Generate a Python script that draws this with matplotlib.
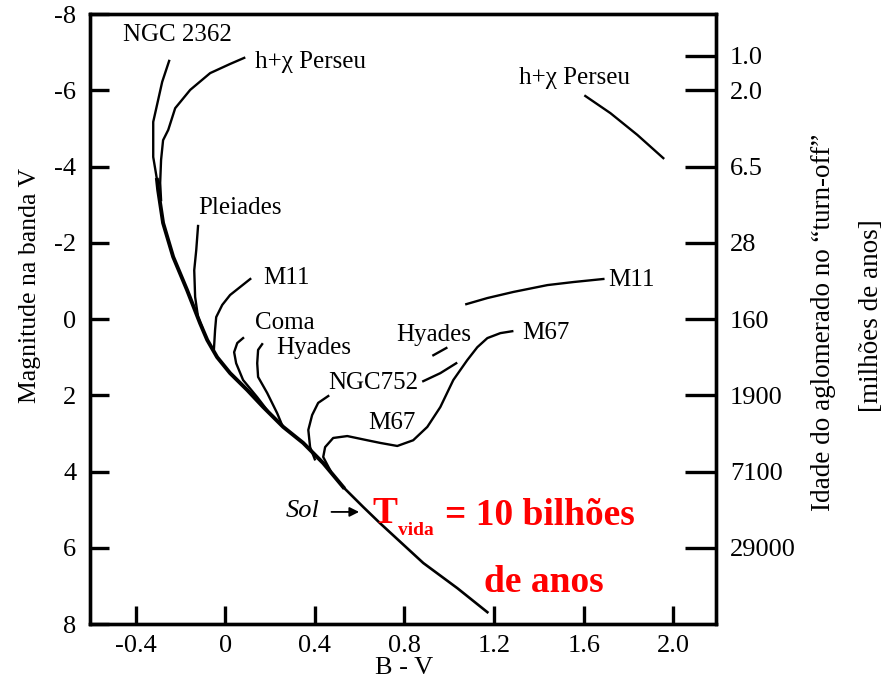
import numpy as np
import matplotlib
matplotlib.use("Agg")
import matplotlib.pyplot as plt

plt.rcParams['font.family'] = ['Liberation Serif', 'DejaVu Serif']

# isocronas (B-V, V) lidas para cada aglomerado
zams_top_bv = [-0.304, -0.299, -0.277, -0.232, -0.170, -0.112, -0.080, -0.036, 0.022, 0.098, 0.170, 0.259, 0.348, 0.4375, 0.527]
zams_top_v = [-3.65, -3.38, -2.52, -1.63, -0.76, 0.11, 0.55, 1.00, 1.42, 1.86, 2.31, 2.83, 3.25, 3.78, 4.41]
zams_low_bv = [0.527, 0.616, 0.690, 0.884, 1.036, 1.170]
zams_low_v = [4.41, 4.93, 5.35, 6.40, 7.06, 7.69]

ngc2362_bv = [-0.250, -0.281, -0.321, -0.321, -0.304]
ngc2362_v = [-6.77, -6.22, -5.17, -4.25, -3.65]

hper_bv = [0.085, 0.022, -0.067, -0.156, -0.223, -0.254, -0.277, -0.286, -0.290, -0.286]
hper_v = [-6.85, -6.69, -6.45, -6.01, -5.53, -4.96, -4.69, -4.17, -3.57, -3.12]
hper_giant_bv = [1.607, 1.719, 1.839, 1.955]
hper_giant_v = [-5.85, -5.40, -4.83, -4.22]

pleiades_bv = [-0.121, -0.129, -0.138, -0.134, -0.121, -0.103]
pleiades_v = [-2.44, -1.81, -1.28, -0.58, -0.05, 0.21]

m11_bv = [0.112, 0.067, 0.022, -0.013, -0.040, -0.045, -0.050]
m11_v = [-1.05, -0.84, -0.63, -0.37, -0.05, 0.29, 0.78]
m11_giant_bv = [1.076, 1.170, 1.286, 1.438, 1.554, 1.6875]
m11_giant_v = [-0.39, -0.55, -0.71, -0.89, -0.97, -1.05]

coma_bv = [0.080, 0.054, 0.040, 0.049, 0.080, 0.143, 0.1875]
coma_v = [0.50, 0.63, 0.87, 1.16, 1.60, 2.05, 2.39]

hyades_bv = [0.165, 0.147, 0.143, 0.147, 0.1875, 0.232, 0.254]
hyades_v = [0.66, 0.81, 1.16, 1.52, 1.94, 2.47, 2.78]
hyades_giant_bv = [0.929, 0.987]
hyades_giant_v = [0.95, 0.76]

ngc752_bv = [0.460, 0.415, 0.388, 0.371, 0.379, 0.400]
ngc752_v = [2.02, 2.20, 2.52, 2.91, 3.36, 3.68]
ngc752_giant_bv = [0.884, 0.960, 1.031]
ngc752_giant_v = [1.63, 1.42, 1.16]

m67_bv = [0.470, 0.4375, 0.446, 0.482, 0.545, 0.634, 0.692, 0.768, 0.839, 0.902, 0.960, 1.018, 1.080, 1.125, 1.170, 1.228, 1.281]
m67_v = [3.98, 3.62, 3.36, 3.12, 3.07, 3.18, 3.25, 3.33, 3.18, 2.83, 2.31, 1.60, 1.08, 0.74, 0.50, 0.37, 0.32]

mag_ticks = [-8, -6, -4, -2, 0, 2, 4, 6, 8]
bv_ticks = [-0.4, 0.0, 0.4, 0.8, 1.2, 1.6, 2.0]
bv_labels = ['-0.4', '0', '0.4', '0.8', '1.2', '1.6', '2.0']
age_ticks = [-6.9, -6, -4, -2, 0, 2, 4, 6]
age_labels = ['1.0', '2.0', '6.5', '28', '160', '1900', '7100', '29000']

# nomes dos aglomerados: (texto, B-V, V, alinhamento)
cluster_names = [
    ('NGC 2362', -0.214, -7.45, 'center'),
    ('h+\u03c7 Perseu', 0.134, -6.74, 'left'),
    ('h+\u03c7 Perseu', 1.558, -6.32, 'center'),
    ('Pleiades', 0.067, -2.91, 'center'),
    ('M11', 0.170, -1.07, 'left'),
    ('Coma', 0.268, 0.11, 'center'),
    ('Hyades', 0.397, 0.76, 'center'),
    ('NGC752', 0.862, 1.68, 'right'),
    ('M67', 0.746, 2.73, 'center'),
    ('Hyades', 0.929, 0.42, 'center'),
    ('M67', 1.326, 0.37, 'left'),
    ('M11', 1.710, -1.02, 'left'),
]

fig = plt.figure(figsize=(8.86, 6.84), dpi=100)
ax = fig.add_axes([0.1016, 0.0877, 0.7065, 0.8918])

lw = 1.7
ax.plot(zams_top_bv, zams_top_v, 'k-', lw=2.8, solid_joinstyle='round')
ax.plot(zams_low_bv, zams_low_v, 'k-', lw=1.9, solid_joinstyle='round')
for bv, v in [(ngc2362_bv, ngc2362_v), (hper_bv, hper_v), (hper_giant_bv, hper_giant_v),
              (pleiades_bv, pleiades_v), (m11_bv, m11_v), (m11_giant_bv, m11_giant_v),
              (coma_bv, coma_v), (hyades_bv, hyades_v), (hyades_giant_bv, hyades_giant_v),
              (ngc752_bv, ngc752_v), (ngc752_giant_bv, ngc752_giant_v), (m67_bv, m67_v)]:
    ax.plot(bv, v, 'k-', lw=lw, solid_joinstyle='round')

for name, x, y, ha in cluster_names:
    ax.text(x, y, name, fontsize=18, ha=ha, va='center')

# o Sol na sequencia principal
ax.text(0.344, 5.04, 'Sol', fontsize=19, style='italic', ha='center', va='center')
ax.annotate('', xy=(0.610, 5.06), xytext=(0.462, 5.06),
            arrowprops=dict(arrowstyle='-|>', color='k', lw=1.3, mutation_scale=14))

red = dict(color='#ff0000', fontweight='bold', zorder=5)
ax.text(0.656, 5.35, 'T', fontsize=27, va='baseline', **red)
ax.text(0.772, 5.67, 'vida', fontsize=14, va='baseline', **red)
ax.text(0.982, 5.41, '= 10 bilh\u00f5es', fontsize=27, va='baseline', **red)
ax.text(1.42, 7.16, 'de anos', fontsize=27, ha='center', va='baseline', **red)

ax.set_xlim(-0.603, 2.19)
ax.set_ylim(8, -8)
ax.set_xticks(bv_ticks)
ax.set_xticklabels(bv_labels)
ax.set_yticks(mag_ticks)
ax.set_yticklabels([str(t) for t in mag_ticks])
ax.tick_params(axis='x', direction='in', length=13, width=2.4, labelsize=19, pad=8)
ax.tick_params(axis='y', direction='in', length=14, width=2.4, labelsize=19, pad=10)
for s in ax.spines.values():
    s.set_linewidth(2.4)

ax2 = ax.twinx()
ax2.set_ylim(8, -8)
ax2.set_yticks(age_ticks)
ax2.set_yticklabels(age_labels)
ax2.tick_params(axis='y', direction='in', length=22, width=2.4, labelsize=19, pad=10)
for s in ax2.spines.values():
    s.set_linewidth(2.4)

fig.text(0.034, 0.583, 'Magnitude na banda V', fontsize=18.5, rotation=90, ha='center', va='center')
fig.text(0.929, 0.529, 'Idade do aglomerado no \u201cturn-off\u201d', fontsize=19.5,
         rotation=90, ha='center', va='center')
fig.text(0.984, 0.539, '[milh\u00f5es de anos]', fontsize=19.5, rotation=90, ha='center', va='center')
fig.text(0.456, 0.024, 'B - V', fontsize=19, ha='center', va='center')

fig.savefig('out.png', dpi=100)
